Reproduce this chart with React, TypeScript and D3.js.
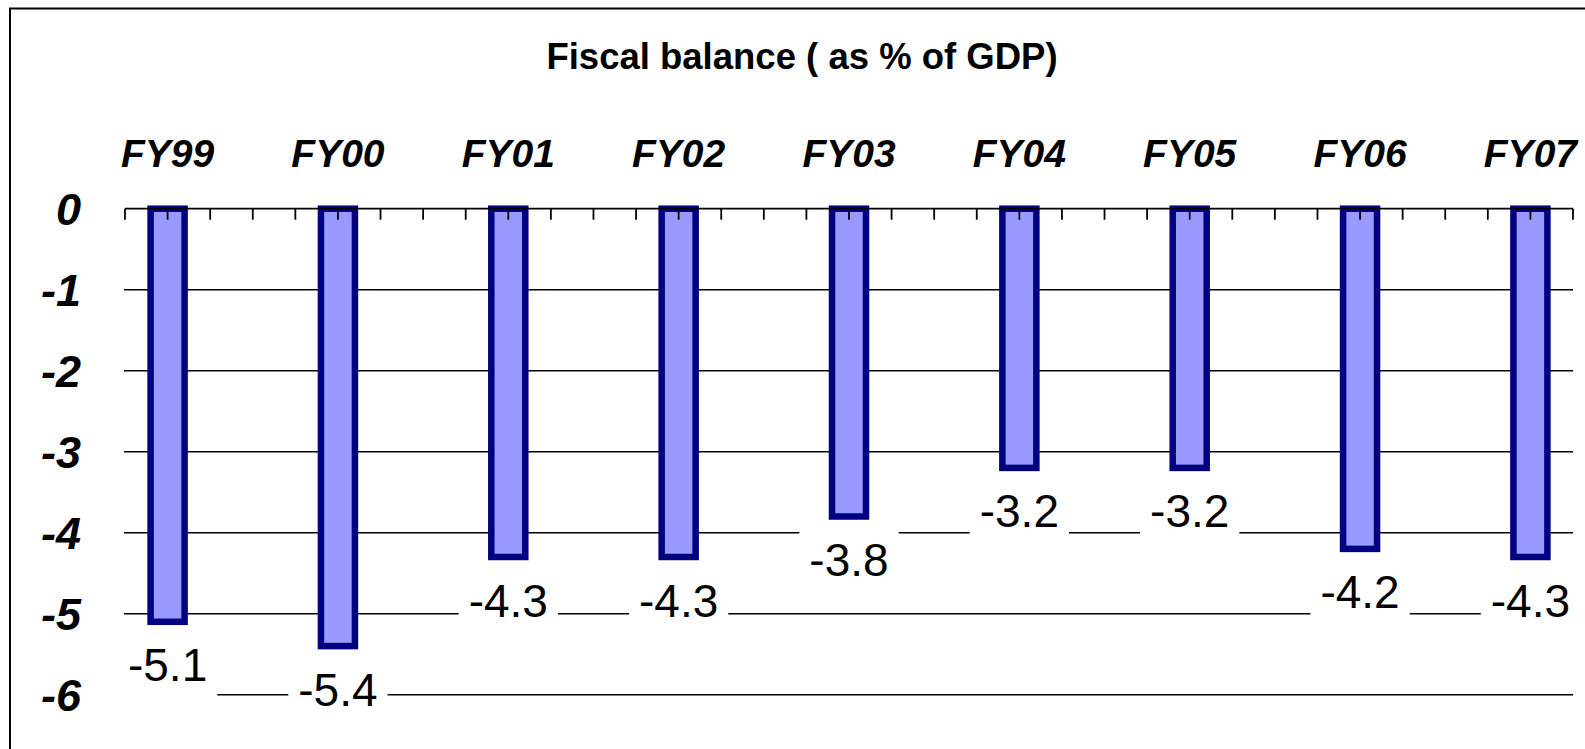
import React, { useEffect, useRef } from "react";
import * as d3 from "d3";

const categories = ["FY99", "FY00", "FY01", "FY02", "FY03", "FY04", "FY05", "FY06", "FY07"];
const values = [-5.1, -5.4, -4.3, -4.3, -3.8, -3.2, -3.2, -4.2, -4.3];
const yTicks = [0, -1, -2, -3, -4, -5, -6];
const title = "Fiscal balance ( as % of GDP)";

const W = 1585;
const H = 749;
const FONT = "'Liberation Sans', Arial, sans-serif";

export default function App() {
  const ref = useRef<SVGSVGElement>(null);

  useEffect(() => {
    const svg = d3.select(ref.current);
    svg.selectAll("*").remove();

    const left = 125;
    const right = 1573;
    const x = d3.scalePoint<string>().domain(categories).range([left, right]).padding(0.25);
    const step = x.step();
    const y = d3.scaleLinear().domain([-6, 0]).range([694.7, 208.7]);

    // outer border
    svg.append("rect")
      .attr("x", 10).attr("y", 8.5).attr("width", 1700).attr("height", 900)
      .attr("fill", "#fff").attr("stroke", "#000").attr("stroke-width", 2);

    // title
    svg.append("text")
      .attr("x", 802).attr("y", 68.5)
      .attr("text-anchor", "middle")
      .attr("font-family", FONT).attr("font-weight", "bold").attr("font-size", 36.5)
      .attr("fill", "#000")
      .text(title);

    // gridlines
    svg.append("g").selectAll("line")
      .data(yTicks.filter((t) => t !== 0))
      .join("line")
      .attr("x1", left - 1).attr("x2", right)
      .attr("y1", (d) => y(d)).attr("y2", (d) => y(d))
      .attr("stroke", "#000").attr("stroke-width", 1.5);

    // y tick labels
    svg.append("g").selectAll("text")
      .data(yTicks)
      .join("text")
      .attr("x", 81).attr("y", (d) => y(d) + 16)
      .attr("text-anchor", "end")
      .attr("font-family", FONT).attr("font-weight", "bold").attr("font-style", "italic")
      .attr("font-size", 45).attr("fill", "#000")
      .text((d) => String(d));

    // x category labels
    svg.append("g").selectAll("text")
      .data(categories)
      .join("text")
      .attr("x", (d) => x(d)!).attr("y", 166.5)
      .attr("text-anchor", "middle")
      .attr("font-family", FONT).attr("font-weight", "bold").attr("font-style", "italic")
      .attr("font-size", 39).attr("fill", "#000")
      .text((d) => d);

    // bars
    const barW = 34;
    svg.append("g").selectAll("rect")
      .data(values)
      .join("rect")
      .attr("x", (_, i) => x(categories[i])! - barW / 2)
      .attr("y", y(0))
      .attr("width", barW)
      .attr("height", (d) => y(d) - y(0))
      .attr("fill", "#9999FF")
      .attr("stroke", "#000080").attr("stroke-width", 6.5);

    // axis line with ticks
    const axis = svg.append("g");
    axis.append("line")
      .attr("x1", left).attr("x2", right)
      .attr("y1", y(0)).attr("y2", y(0))
      .attr("stroke", "#000").attr("stroke-width", 1.8);
    const tickPos = d3.range(0, 35).map((k) => left + (k * step) / 4);
    axis.selectAll("line.tick")
      .data(tickPos)
      .join("line")
      .attr("class", "tick")
      .attr("x1", (d) => d).attr("x2", (d) => d)
      .attr("y1", y(0)).attr("y2", y(0) + 11)
      .attr("stroke", "#000").attr("stroke-width", 1.8);

    // data labels with white boxes
    const lg = svg.append("g");
    values.forEach((v, i) => {
      const cx = x(categories[i])!;
      const base = y(v) + 59.5;
      const g = lg.append("g");
      const r = g.append("rect").attr("fill", "#fff");
      const t = g.append("text")
        .attr("x", cx).attr("y", base)
        .attr("text-anchor", "middle")
        .attr("font-family", FONT).attr("font-size", 46).attr("fill", "#000")
        .text(String(v));
      const bb = (t.node() as SVGTextElement).getBBox();
      r.attr("x", bb.x - 10).attr("y", base - 48)
        .attr("width", bb.width + 20).attr("height", 66);
    });
  }, []);

  return (
    <svg
      ref={ref}
      width={W}
      height={H}
      style={{ position: "absolute", left: 0, top: 0, display: "block", background: "#fff" }}
    />
  );
}
